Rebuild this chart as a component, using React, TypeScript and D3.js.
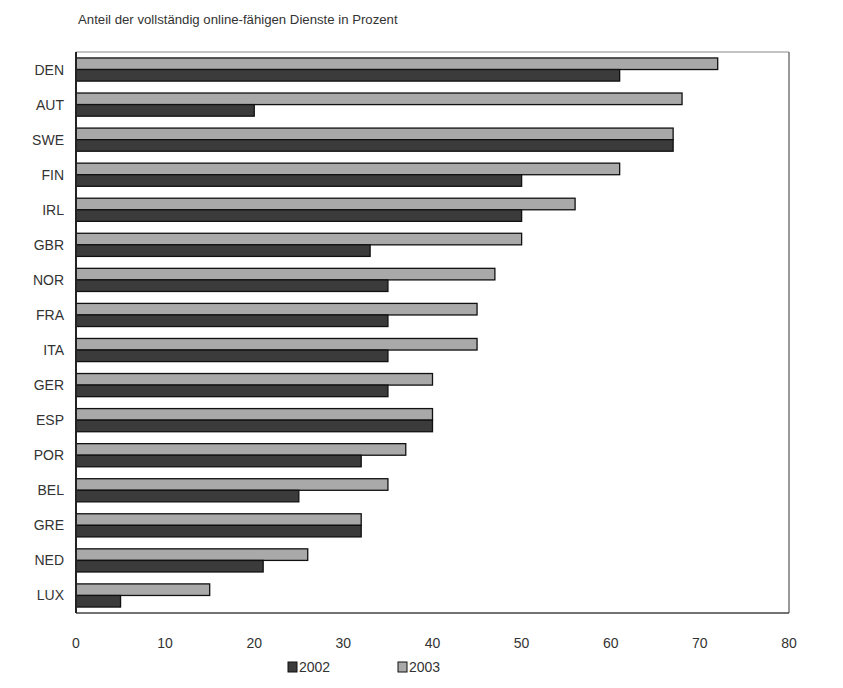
import React from "react";
import * as d3 from "d3";

const countries = ["DEN","AUT","SWE","FIN","IRL","GBR","NOR","FRA","ITA","GER","ESP","POR","BEL","GRE","NED","LUX"];
const values2003 = [72,68,67,61,56,50,47,45,45,40,40,37,35,32,26,15];
const values2002 = [61,20,67,50,50,33,35,35,35,35,40,32,25,32,21,5];
const xTicks = [0,10,20,30,40,50,60,70,80];
const seriesNames = ["2003","2002"];
const legendNames = ["2002","2003"];
const title = "Anteil der vollständig online-fähigen Dienste in Prozent";

const W = 843, H = 688;
const left = 76, right = 789, top = 52, bottom = 613;
const colors: Record<string,string> = { "2002": "#3b3b3b", "2003": "#a9a9a9" };

export default function App() {
  const x = d3.scaleLinear().domain([0, 80]).range([left, right]);
  const y = d3.scaleBand<string>().domain(countries).range([top, bottom]).paddingInner(0.34).paddingOuter(0.17);
  const sub = d3.scaleBand<string>().domain(seriesNames).range([0, y.bandwidth()]);
  const font = "'Liberation Sans', Arial, sans-serif";
  const data: Record<string, number[]> = { "2003": values2003, "2002": values2002 };
  return (
    <svg width={W} height={H} style={{ position: "absolute", left: 0, top: 0, background: "#fff" }} fontFamily={font}>
      <rect x={0} y={0} width={W} height={H} fill="#fff" />
      <text x={78} y={24} fontSize={13.2} fill="#333">{title}</text>
      {/* frame */}
      <line x1={left} x2={right} y1={top} y2={top} stroke="#888" strokeWidth={1} />
      <line x1={right} x2={right} y1={top} y2={bottom} stroke="#777" strokeWidth={1.5} />
      <line x1={left} x2={right} y1={bottom} y2={bottom} stroke="#444" strokeWidth={1.5} />
      {seriesNames.map((s) =>
        countries.map((c, i) => {
          const v = data[s][i];
          return (
            <rect key={s + c} x={x(0)} y={(y(c) as number) + (sub(s) as number)} width={x(v) - x(0)} height={sub.bandwidth()}
              fill={colors[s]} stroke="#111" strokeWidth={1.3} />
          );
        })
      )}
      <line x1={left} x2={left} y1={top} y2={bottom} stroke="#222" strokeWidth={2} />
      {countries.map((c) => (
        <text key={c} x={64} y={(y(c) as number) + y.bandwidth() / 2 + 5} textAnchor="end" fontSize={14} fill="#333">{c}</text>
      ))}
      {xTicks.map((t) => (
        <text key={t} x={x(t)} y={648} textAnchor="middle" fontSize={14} fill="#333">{t}</text>
      ))}
      {legendNames.map((s, i) => {
        const lx = 288 + i * 110;
        return (
          <g key={s}>
            <rect x={lx} y={662} width={9} height={10} fill={colors[s]} stroke="#111" strokeWidth={1} />
            <text x={lx + 11} y={672} fontSize={14} fill="#333">{s}</text>
          </g>
        );
      })}
    </svg>
  );
}
